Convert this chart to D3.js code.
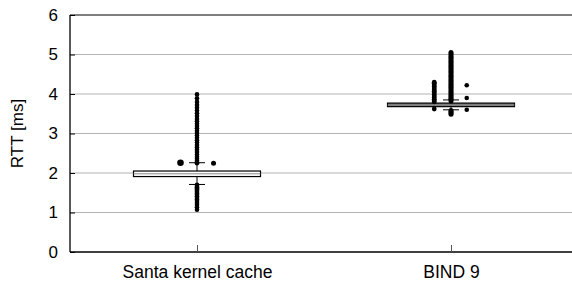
<!DOCTYPE html>
<html><head><meta charset="utf-8">
<script src="https://cdn.jsdelivr.net/npm/d3@7"></script>
<style>body{margin:0;background:#fff}svg{display:block}text{font-family:"Liberation Sans",Arial,sans-serif;fill:#000}</style>
</head><body><svg id="c" width="572" height="284"></svg>
<script>
const categories = ["Santa kernel cache", "BIND 9"];
const yTicks = [0, 1, 2, 3, 4, 5, 6];
// box statistics per category
const q1 = [1.91, 3.68];
const median = [1.98, 3.72];
const q3 = [2.05, 3.77];
const whiskerLow = [1.71, 3.60];
const whiskerHigh = [2.26, 3.85];
// outlier values
const santaOutliers = [3.99,3.89,3.80,3.72,3.65,3.58,3.51,3.44,3.37,3.31,3.25,3.19,3.13,3.07,3.01,2.95,2.89,2.83,2.77,2.71,2.65,2.59,2.53,2.47,2.41,2.36,2.31,2.27,2.25,
  1.70,1.67,1.64,1.61,1.58,1.55,1.52,1.48,1.45,1.41,1.37,1.33,1.29,1.24,1.19,1.13,1.07];
const santaSide = [[-0.065, 2.26, 3.3], [0.065, 2.25, 2.5]];
const bindMain = [5.05,5.01,4.97,4.93,4.89,4.85,4.81,4.77,4.73,4.69,4.65,4.61,4.57,4.53,4.49,4.45,4.41,4.37,4.33,4.29,4.25,4.21,4.17,4.13,4.09,4.05,4.01,3.97,3.93,3.89,3.86,3.82,3.58,3.55,3.52,3.49];
const bindLeft = [4.30,4.27,4.23,4.19,4.15,4.11,4.07,4.03,3.99,3.95,3.91,3.87,3.83,3.80,3.62];
const bindRight = [4.22, 3.90, 3.60];

const svg = d3.select("#c");
const L = 70, R = 578, T = 15, B = 252;
const x = d3.scalePoint().domain(categories).range([L, R]).padding(0.5);
const step = x.step();
const y = d3.scaleLinear().domain([0, 6]).range([B, T]);

// gridlines
svg.append("g").selectAll("line").data(yTicks.filter(d => d > 0 && d < 6)).join("line")
  .attr("x1", L).attr("x2", 572).attr("y1", d => y(d)).attr("y2", d => y(d))
  .attr("stroke", "#b4b4b4").attr("stroke-width", 1.2);
// frame
svg.append("line").attr("x1", L).attr("x2", 572).attr("y1", y(6)).attr("y2", y(6)).attr("stroke", "#000").attr("stroke-width", 1.2);

const yAxis = d3.axisLeft(y).tickValues(yTicks).tickSize(-5).tickPadding(12).tickFormat(d3.format("d"));
const gy = svg.append("g").attr("transform", `translate(${L},0)`).call(yAxis);
gy.select(".domain").attr("stroke", "#000").attr("stroke-width", 1.3).attr("d", `M0,${T}V${B}`);
gy.selectAll("text").style("font-size", "17px").attr("font-family", null);

const xAxis = d3.axisBottom(x).tickSize(-7).tickPadding(14);
const gx = svg.append("g").attr("transform", `translate(0,${B})`).call(xAxis);
gx.select(".domain").attr("stroke", "#000").attr("stroke-width", 1.3).attr("d", `M${L},0H572`);
gx.selectAll(".tick line").attr("stroke", "#555");
gx.selectAll("text").style("font-size", "17.5px").attr("font-family", null);

svg.append("text").attr("transform", `translate(23,${(T + B) / 2}) rotate(-90)`)
  .attr("text-anchor", "middle").style("font-size", "17px").text("RTT [ms]");

const boxW = 127, capW = 16;
categories.forEach((c, i) => {
  const cx = x(c);
  const g = svg.append("g");
  g.append("line").attr("x1", cx).attr("x2", cx).attr("y1", y(whiskerLow[i])).attr("y2", y(whiskerHigh[i])).attr("stroke", "#000");
  [whiskerLow[i], whiskerHigh[i]].forEach(v => g.append("line").attr("x1", cx - capW / 2).attr("x2", cx + capW / 2)
    .attr("y1", y(v)).attr("y2", y(v)).attr("stroke", "#000"));
  g.append("rect").attr("x", cx - boxW / 2).attr("width", boxW).attr("y", y(q3[i])).attr("height", y(q1[i]) - y(q3[i]))
    .attr("fill", i === 0 ? "#fff" : "#777").attr("stroke", "#000").attr("stroke-width", 1.2);
  g.append("line").attr("x1", cx - boxW / 2).attr("x2", cx + boxW / 2).attr("y1", y(median[i])).attr("y2", y(median[i]))
    .attr("stroke", "#888").attr("stroke-width", 1);
});

function dots(cat, off, vals, r) {
  svg.append("g").selectAll("circle").data(vals).join("circle")
    .attr("cx", x(cat) + off * step).attr("cy", d => y(d)).attr("r", r).attr("fill", "#000");
}
dots(categories[0], 0, santaOutliers, 2.3);
santaSide.forEach(s => dots(categories[0], s[0], [s[1]], s[2]));
dots(categories[1], 0, bindMain, 2.5);
dots(categories[1], -0.066, bindLeft, 2.4);
dots(categories[1], 0.062, bindRight, 2.3);
</script></body></html>
